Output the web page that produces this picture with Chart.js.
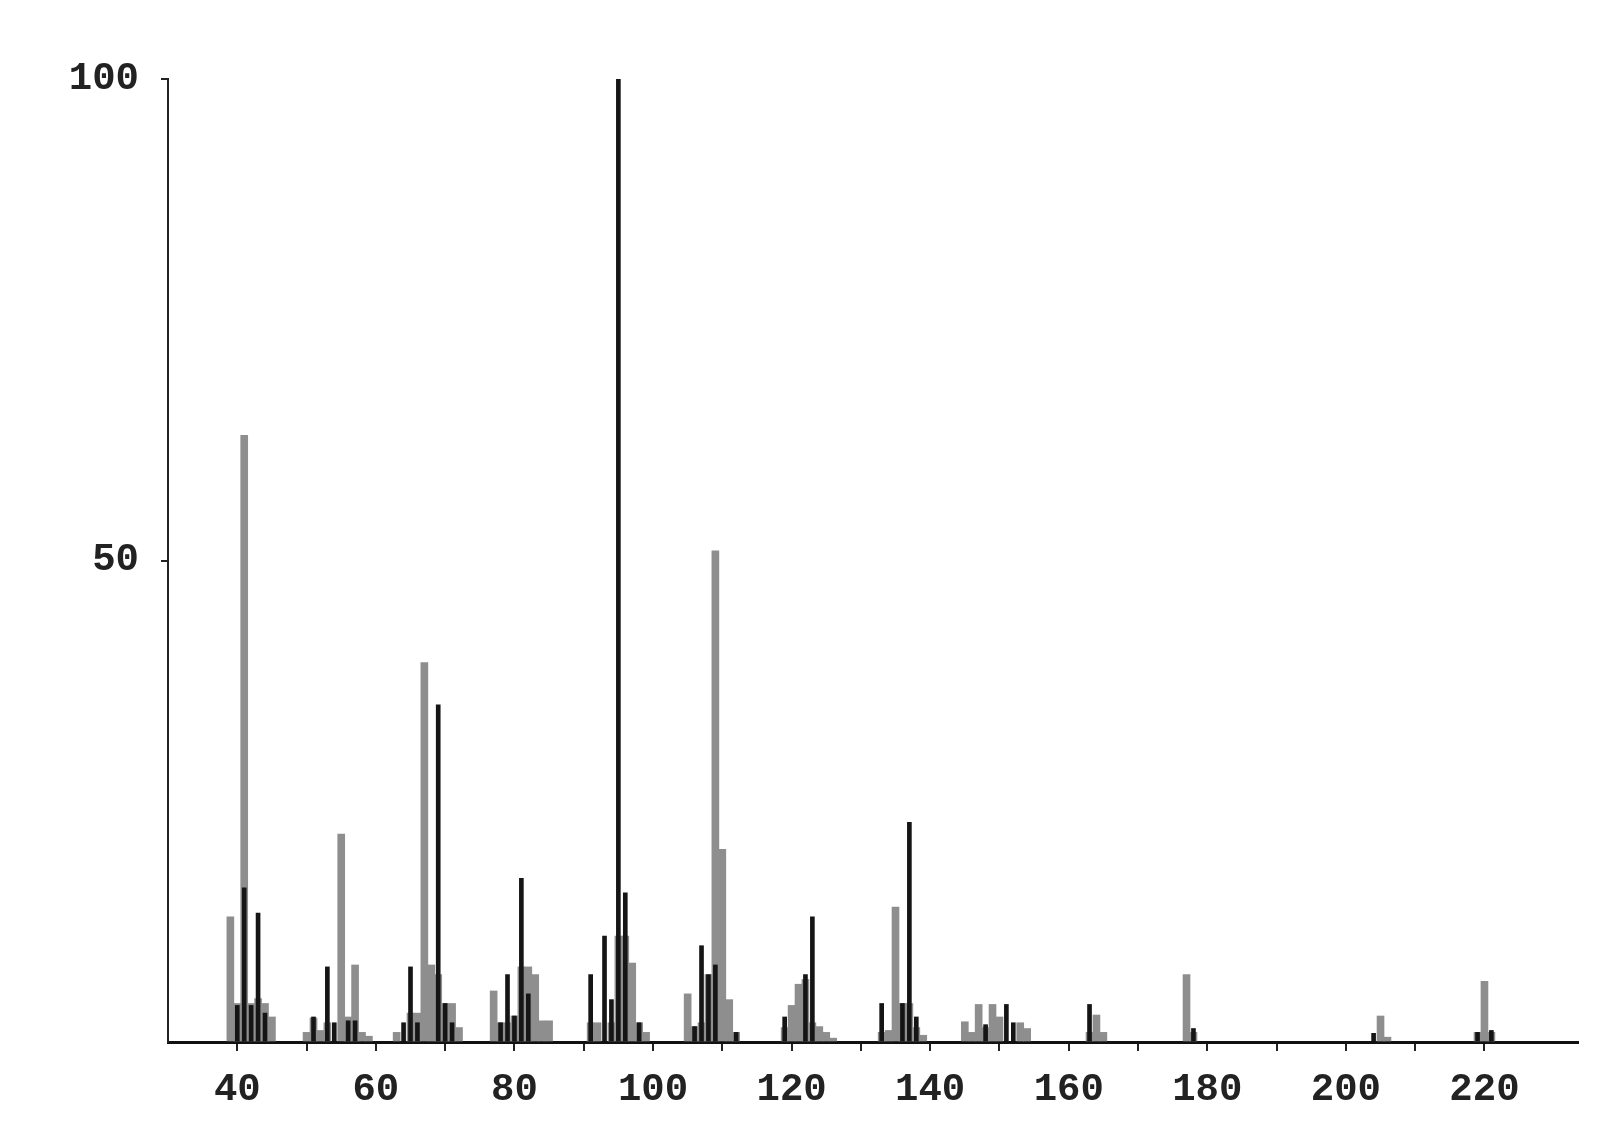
<!DOCTYPE html>
<html>
<head>
<meta charset="utf-8">
<script src="https://cdn.jsdelivr.net/npm/chart.js@4.4.1/dist/chart.umd.min.js"></script>
<style>
html,body{margin:0;padding:0;background:#fff;}
#wrap{width:1600px;height:1146px;position:relative;}
</style>
</head>
<body>
<div id="wrap"><canvas id="c" width="1600" height="1146"></canvas></div>
<script>
// m/z values and relative intensities (%)
const grayMz  = [39,40,41,42,43,44,45, 50,51,52,53,55,56,57,58,59, 63,65,66,67,68,69,70,71,72, 77,78,79,80,81,82,83,84,85, 91,92,94,95,96,97,98,99, 105,106,107,108,109,110,111,112, 119,120,121,122,123,124,125,126, 133,134,135,136,137,138,139, 145,146,147,148,149,150,153,154, 163,164,165, 177,178, 205,206, 219,220,221];
const grayInt = [13,4,63,4,4.5,4,2.6, 1,2.5,1.2,2,21.6,2.6,8,1,0.6, 1,3,3,39.4,8,7,4,4,1.5, 5.3,2,2,2.7,7.8,7.8,7,2.2,2.2, 2,2,2,11,11,8.2,2,1, 5,1.6,2,7,51,20,4.4,1, 1.5,3.8,6,6.5,2,1.6,1,0.4, 1,1.2,14,4,4,1.5,0.7, 2.1,1,3.9,1.5,3.9,2.6,2,1.4, 1,2.8,1, 7,1, 2.7,0.5, 1,6.3,1];
const blackMz  = [40,41,42,43,44, 51,53,54,56,57, 64,65,66,69,70,71, 78,79,80,81,82, 91,93,94,95,96,98, 106,107,108,109,112, 119,122,123, 133,136,137,138, 148,151,152, 163, 178, 204, 219,221];
const blackInt = [3.8,16,3.8,13.4,3, 2.6,7.8,2,2.2,2.2, 2,7.8,2,35,4,2, 2,7,2.7,17,5, 7,11,4.4,100,15.5,2, 1.6,10,7,8,1, 2.6,7,13, 4,4,22.8,2.6, 1.8,3.9,2, 3.9, 1.4, 0.9, 1,1.2];
const xLabels = [40,60,80,100,120,140,160,180,200,220];
const yLabels = [50,100];

const toPts = (xs, ys) => xs.map((x, i) => ({x: x, y: ys[i]}));
const FONT = {family: "'Liberation Mono', 'DejaVu Sans Mono', monospace", size: 39, weight: 'bold'};

new Chart(document.getElementById('c'), {
  type: 'bar',
  data: {
    datasets: [
      {label: 'black', data: toPts(blackMz, blackInt), backgroundColor: '#151515', barThickness: 4, grouped: false},
      {label: 'gray', data: toPts(grayMz, grayInt), backgroundColor: '#8e8e8e', barThickness: 7, grouped: false}
    ]
  },
  options: {
    responsive: false,
    animation: false,
    layout: {padding: {left: 0, top: 79, right: 22, bottom: 0}},
    plugins: {legend: {display: false}, tooltip: {enabled: false}},
    scales: {
      x: {
        type: 'linear', min: 30, max: 233.5, offset: false,
        afterFit: s => { s.height = 104; },
        border: {display: true, color: '#111', width: 3},
        grid: {display: true, offset: false, drawOnChartArea: false, tickLength: 9, lineWidth: 2,
               tickColor: ctx => (ctx.tick && Number.isInteger(ctx.tick.value) && ctx.tick.value % 10 === 0 && ctx.tick.value > 30) ? '#222' : 'rgba(0,0,0,0)'},
        ticks: {stepSize: 10, autoSkip: false, maxRotation: 0, color: '#222', font: FONT, padding: 16,
                callback: v => xLabels.includes(v) ? String(v) : ''}
      },
      y: {
        type: 'linear', min: 0, max: 100,
        afterFit: s => { s.width = 168; },
        border: {display: true, color: '#222', width: 2},
        grid: {display: true, drawOnChartArea: false, tickLength: 7, lineWidth: 2,
               tickColor: ctx => (ctx.tick && yLabels.includes(ctx.tick.value)) ? '#222' : 'rgba(0,0,0,0)'},
        ticks: {stepSize: 10, autoSkip: false, color: '#222', font: FONT, padding: 22,
                callback: v => yLabels.includes(v) ? String(v) : ''}
      }
    }
  }
});
</script>
</body>
</html>
